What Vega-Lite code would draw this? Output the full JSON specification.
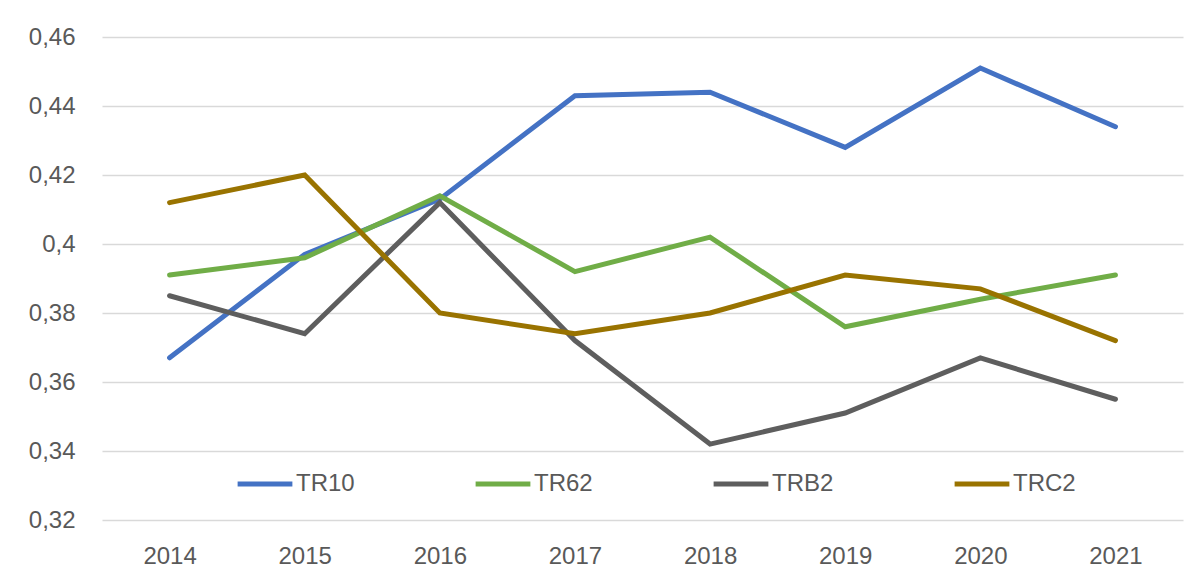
{
  "$schema": "https://vega.github.io/schema/vega-lite/v6.json",
  "width": 1081,
  "height": 483,
  "autosize": {"type": "none"},
  "padding": {"left": 102, "top": 37, "right": 21, "bottom": 64},
  "background": "white",
  "data": {
    "values": [
      {"year": "2014", "series": "TR10", "value": 0.367},
      {"year": "2015", "series": "TR10", "value": 0.397},
      {"year": "2016", "series": "TR10", "value": 0.413},
      {"year": "2017", "series": "TR10", "value": 0.443},
      {"year": "2018", "series": "TR10", "value": 0.444},
      {"year": "2019", "series": "TR10", "value": 0.428},
      {"year": "2020", "series": "TR10", "value": 0.451},
      {"year": "2021", "series": "TR10", "value": 0.434},
      {"year": "2014", "series": "TR62", "value": 0.391},
      {"year": "2015", "series": "TR62", "value": 0.396},
      {"year": "2016", "series": "TR62", "value": 0.414},
      {"year": "2017", "series": "TR62", "value": 0.392},
      {"year": "2018", "series": "TR62", "value": 0.402},
      {"year": "2019", "series": "TR62", "value": 0.376},
      {"year": "2020", "series": "TR62", "value": 0.384},
      {"year": "2021", "series": "TR62", "value": 0.391},
      {"year": "2014", "series": "TRB2", "value": 0.385},
      {"year": "2015", "series": "TRB2", "value": 0.374},
      {"year": "2016", "series": "TRB2", "value": 0.412},
      {"year": "2017", "series": "TRB2", "value": 0.372},
      {"year": "2018", "series": "TRB2", "value": 0.342},
      {"year": "2019", "series": "TRB2", "value": 0.351},
      {"year": "2020", "series": "TRB2", "value": 0.367},
      {"year": "2021", "series": "TRB2", "value": 0.355},
      {"year": "2014", "series": "TRC2", "value": 0.412},
      {"year": "2015", "series": "TRC2", "value": 0.420},
      {"year": "2016", "series": "TRC2", "value": 0.380},
      {"year": "2017", "series": "TRC2", "value": 0.374},
      {"year": "2018", "series": "TRC2", "value": 0.380},
      {"year": "2019", "series": "TRC2", "value": 0.391},
      {"year": "2020", "series": "TRC2", "value": 0.387},
      {"year": "2021", "series": "TRC2", "value": 0.372}
    ]
  },
  "mark": {"type": "line", "strokeWidth": 5, "strokeCap": "round", "strokeJoin": "miter"},
  "encoding": {
    "x": {
      "field": "year",
      "type": "ordinal",
      "scale": {"type": "point", "padding": 0.5},
      "axis": {
        "title": null,
        "labelAngle": 0,
        "labelFont": "Liberation Sans",
        "labelFontSize": 24,
        "labelColor": "#595959",
        "labelPadding": 24,
        "ticks": false,
        "domain": false,
        "grid": false
      }
    },
    "y": {
      "field": "value",
      "type": "quantitative",
      "scale": {"domain": [0.32, 0.46], "nice": false, "zero": false},
      "axis": {
        "title": null,
        "values": [0.32, 0.34, 0.36, 0.38, 0.4, 0.42, 0.44, 0.46],
        "labelExpr": "replace(format(datum.value, '.2~f'), '.', ',')",
        "labelFont": "Liberation Sans",
        "labelFontSize": 24,
        "labelColor": "#595959",
        "labelPadding": 27,
        "ticks": false,
        "domain": false,
        "grid": true,
        "gridColor": "#d9d9d9",
        "gridWidth": 1.5
      }
    },
    "color": {
      "field": "series",
      "type": "nominal",
      "scale": {
        "domain": ["TR10", "TR62", "TRB2", "TRC2"],
        "range": ["#4472C4", "#70AD47", "#5E5E5E", "#997300"]
      },
      "legend": {
        "title": null,
        "orient": "none",
        "direction": "horizontal",
        "legendX": 133,
        "legendY": 417,
        "symbolType": "stroke",
        "symbolSize": 3000,
        "symbolStrokeWidth": 5,
        "labelFont": "Liberation Sans",
        "labelFontSize": 24,
        "labelColor": "#595959",
        "labelOffset": 1,
        "columnPadding": 110
      }
    }
  },
  "config": {
    "view": {"stroke": null}
  }
}
